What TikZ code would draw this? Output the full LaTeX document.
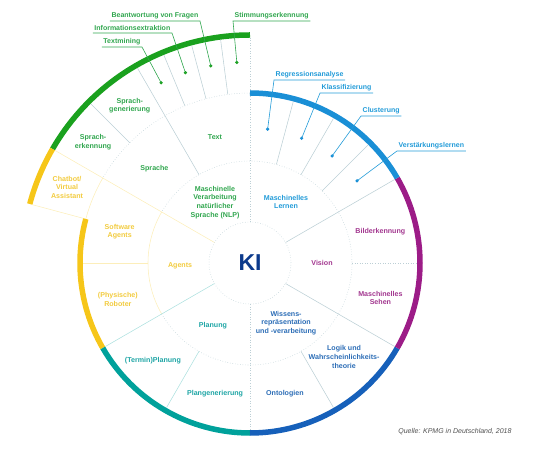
\documentclass[tikz,border=0pt]{standalone}
\usepackage{fontspec}
\setmainfont{Liberation Sans}
\usetikzlibrary{positioning}
\definecolor{nlpgreen}{HTML}{1AA11E}
\definecolor{nlptext}{HTML}{30A64E}
\definecolor{mlblue}{HTML}{1A8FD6}
\definecolor{mltext}{HTML}{229BD8}
\definecolor{visionpurple}{HTML}{9C1C87}
\definecolor{visiontext}{HTML}{A2378F}
\definecolor{wissenblue}{HTML}{1660BA}
\definecolor{wissentext}{HTML}{2C6DB6}
\definecolor{planteal}{HTML}{00A19B}
\definecolor{plantext}{HTML}{1EA5A5}
\definecolor{agentyellow}{HTML}{F6C619}
\definecolor{agenttext}{HTML}{F2CB3E}
\definecolor{kinavy}{HTML}{0C3A8C}
\definecolor{gridgray}{HTML}{BCCFD5}
\definecolor{quellegray}{HTML}{505050}
\tikzset{
  ring/.style={line width=5.5pt},
  grid/.style={draw=gridgray,line width=.55pt},
  dotgrid/.style={grid,dotted},
  yellowgrid/.style={draw=agentyellow!30,line width=.55pt},
  tealgrid/.style={draw=planteal!32,line width=.55pt},
  lbl/.style={font=\fontsize{7.1}{8.7}\selectfont\bfseries,align=center,inner sep=1pt},
  leaf/.style={font=\fontsize{7}{8}\selectfont\bfseries,inner xsep=1.5pt,inner ysep=2pt},
  dot/.style={circle,inner sep=0pt,minimum size=3.6pt},
  leader/.style={line width=.6pt},
}
\begin{document}
\begin{tikzpicture}[x=1pt,y=1pt]
  \useasboundingbox (-250,-202) rectangle (290,263);
  % rings
  \draw[dotgrid] (0,0) circle (41pt);
  \draw[dotgrid] (30:102pt) arc[start angle=30,end angle=150,radius=102pt];
  \draw[yellowgrid] (150:102pt) arc[start angle=150,end angle=210,radius=102pt];
  \draw[dotgrid] (210:102pt) arc[start angle=210,end angle=390,radius=102pt];
  \draw[dotgrid] (90:170pt) arc[start angle=90,end angle=150,radius=170pt];
  \draw[yellowgrid] (150:170pt) arc[start angle=150,end angle=165,radius=170pt];
  % sector borders
  \foreach \a in {30,330} \draw[grid] (\a:41pt) -- (\a:167pt);
  \draw[dotgrid] (90:41pt) -- (90:225pt);
  \draw[dotgrid] (270:41pt) -- (270:167pt);
  \draw[yellowgrid] (150:41pt) -- (150:225pt);
  \draw[tealgrid] (210:41pt) -- (210:167pt);
  \foreach \a in {45,60,75,300} \draw[grid] (\a:102pt) -- (\a:167pt);
  \draw[dotgrid] (0:102pt) -- (0:167pt);
  \draw[yellowgrid] (180:102pt) -- (180:167pt);
  \draw[tealgrid] (240:102pt) -- (240:167pt);
  \draw[grid] (120:102pt) -- (120:225pt);
  \foreach \a in {97.5,105,112.5,135} \draw[grid] (\a:170pt) -- (\a:225pt);
  \draw[yellowgrid] (165:170pt) -- (165:225pt);
  % coloured arcs
  \draw[ring,nlpgreen] (90:228pt) arc[start angle=90,end angle=150,radius=228pt];
  \draw[ring,agentyellow] (150:228pt) arc[start angle=150,end angle=165,radius=228pt];
  \draw[ring,agentyellow] (165:170pt) arc[start angle=165,end angle=210,radius=170pt];
  \draw[ring,planteal] (210:170pt) arc[start angle=210,end angle=270,radius=170pt];
  \draw[ring,wissenblue] (270:170pt) arc[start angle=270,end angle=330,radius=170pt];
  \draw[ring,visionpurple] (330:170pt) arc[start angle=330,end angle=390,radius=170pt];
  \draw[ring,mlblue] (30:170pt) arc[start angle=30,end angle=90,radius=170pt];

  \node[font=\fontsize{23}{23}\selectfont\bfseries,text=kinavy] (ki) at (0,0) {KI};

  % inner sectors
  \node[lbl,text=nlptext] (nlp) at (120:70pt) {Maschinelle\\Verarbeitung\\natürlicher\\Sprache (NLP)};
  \node[lbl,text=mltext] (ml) at (59.5:71pt) {Maschinelles\\Lernen};
  \node[lbl,text=visiontext] (vision) at (0:72pt) {Vision};
  \node[lbl,text=wissentext] (wissen) at (301:70pt) {Wissens-\\repräsentation\\und -verarbeitung};
  \node[lbl,text=plantext] (planung) at (239.5:73pt) {Planung};
  \node[lbl,text=agenttext] (agents) at (182.5:70pt) {Agents};

  % outer sectors
  \node[lbl,text=nlptext] (text) at (105.5:131pt) {Text};
  \node[lbl,text=nlptext] (sprache) at (135.5:134pt) {Sprache};
  \node[lbl,text=nlptext] (sgen) at (127.4:198pt) {Sprach-\\generierung};
  \node[lbl,text=nlptext] (serk) at (142.4:198pt) {Sprach-\\erkennung};
  \node[lbl,text=agenttext] (chatbot) at (157.5:198pt) {Chatbot/\\Virtual\\Assistant};
  \node[lbl,text=agenttext] (software) at (166.5:134pt) {Software\\Agents};
  \node[lbl,text=agenttext] (roboter) at (195.3:137pt) {(Physische)\\Roboter};
  \node[lbl,text=plantext] (termin) at (225.3:138pt) {(Termin)Planung};
  \node[lbl,text=plantext] (plangen) at (255:135pt) {Plangenerierung};
  \node[lbl,text=wissentext] (onto) at (285:135pt) {Ontologien};
  \node[lbl,text=wissentext] (logik) at (315:133pt) {Logik und\\Wahrscheinlichkeits-\\theorie};
  \node[lbl,text=visiontext] (sehen) at (345:135pt) {Maschinelles\\Sehen};
  \node[lbl,text=visiontext] (bild) at (13.4:134pt) {Bilderkennung};

  % text leaves
  \node[dot,fill=nlpgreen] (dtm) at (116.25:201pt) {};
  \node[dot,fill=nlpgreen] (die) at (108.75:201pt) {};
  \node[dot,fill=nlpgreen] (dbf) at (101.25:201pt) {};
  \node[dot,fill=nlpgreen] (dse) at (93.75:201pt) {};
  \node[leaf,text=nlptext,anchor=south east] (tm) at (-108,216) {Textmining};
  \node[leaf,text=nlptext,anchor=south east] (ie) at (-78,230) {Informationsextraktion};
  \node[leaf,text=nlptext,anchor=south east] (bf) at (-50,242) {Beantwortung von Fragen};
  \node[leaf,text=nlptext,anchor=south west] (se) at (-17,242) {Stimmungserkennung};
  \draw[leader,nlptext] (dtm.center) -- (tm.south east) -- (tm.south west);
  \draw[leader,nlptext] (die.center) -- (ie.south east) -- (ie.south west);
  \draw[leader,nlptext] (dbf.center) -- (bf.south east) -- (bf.south west);
  \draw[leader,nlptext] (dse.center) -- (se.south west) -- (se.south east);

  % learning leaves
  \node[dot,fill=mlblue] (dreg) at (82.5:135pt) {};
  \node[dot,fill=mlblue] (dkla) at (67.5:135pt) {};
  \node[dot,fill=mlblue] (dclu) at (52.5:135pt) {};
  \node[dot,fill=mlblue] (dver) at (37.5:135pt) {};
  \node[leaf,text=mltext,anchor=south west] (reg) at (24,183) {Regressionsanalyse};
  \node[leaf,text=mltext,anchor=south west] (kla) at (70,170) {Klassifizierung};
  \node[leaf,text=mltext,anchor=south west] (clu) at (111,147) {Clusterung};
  \node[leaf,text=mltext,anchor=south west] (ver) at (147,112) {Verstärkungslernen};
  \draw[leader,mltext] (dreg.center) -- (reg.south west) -- (reg.south east);
  \draw[leader,mltext] (dkla.center) -- (kla.south west) -- (kla.south east);
  \draw[leader,mltext] (dclu.center) -- (clu.south west) -- (clu.south east);
  \draw[leader,mltext] (dver.center) -- (ver.south west) -- (ver.south east);

  \node[font=\fontsize{7}{8}\selectfont\itshape,text=quellegray,anchor=east] (quelle) at (265,-169) {Quelle: KPMG in Deutschland, 2018};
\end{tikzpicture}
\end{document}
